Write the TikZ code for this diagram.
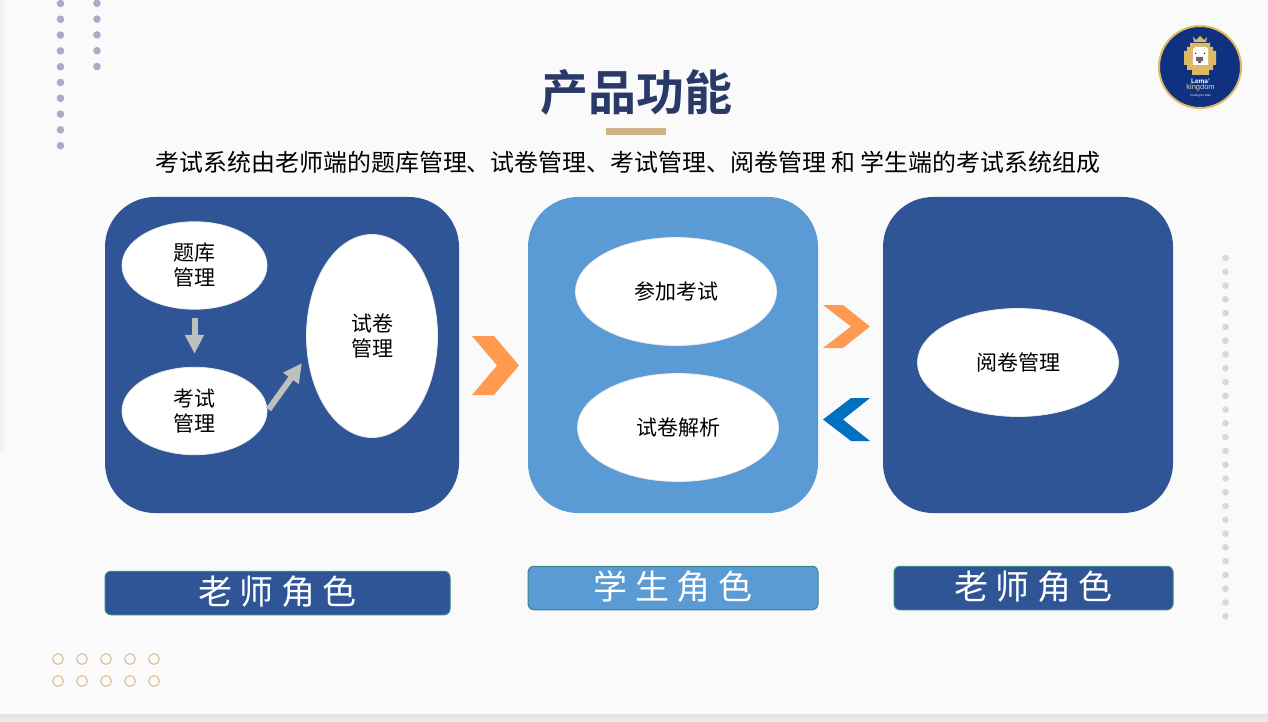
\documentclass[tikz,border=0pt]{standalone}
\usepackage{fontspec}
\setmainfont{Liberation Sans}
\newfontfamily\cjk{Noto Sans CJK SC}
\newfontfamily\cjkb{Noto Sans CJK SC Bold}
\usetikzlibrary{arrows.meta,shapes.geometric}
\definecolor{bgc}{HTML}{FAFAFB}
\definecolor{navy}{HTML}{2F5597}
\definecolor{sky}{HTML}{5B9BD5}
\definecolor{titlec}{HTML}{2A3A68}
\definecolor{barc}{HTML}{CFB285}
\definecolor{dotc}{HTML}{A9ADC1}
\definecolor{dotl}{HTML}{D5D7E3}
\definecolor{ringc}{HTML}{D9BC94}
\definecolor{orangec}{HTML}{FF9A50}
\definecolor{bluec}{HTML}{0070C0}
\definecolor{tealb}{HTML}{3A8588}
\definecolor{arrowc}{HTML}{BFBFBF}
\definecolor{logob}{HTML}{0F3180}
\definecolor{logog}{HTML}{DDB965}
\tikzset{
  x=1pt,y=-1pt,
  panel/.style={rounded corners=50pt,inner sep=0pt},
  oval/.style={ellipse,fill=white,draw=black!8,line width=0.8pt,inner sep=0pt,align=center,font=\cjk\fontsize{21}{25}\selectfont,text=black},
  rolebox/.style={rounded corners=6pt,draw=tealb,line width=1pt,minimum height=43.5pt,inner sep=0pt},
  roletext/.style={text=white,font=\cjk\fontsize{34}{40}\selectfont},
  grayarrow/.style={draw=arrowc,line width=6pt,-{Triangle[length=19pt,width=18pt]}},
  dotd/.style={fill=dotc,draw=none},
  dotlight/.style={fill=dotl,draw=none},
  ring/.style={draw=ringc,line width=1.1pt,fill=none},
}
\begin{document}
\begin{tikzpicture}
\useasboundingbox (0,0) rectangle (1268,722);
\fill[bgc] (0,0) rectangle (1268,722);
\shade[left color=black!6,right color=bgc] (0,0) rectangle (8,450);
\shade[top color=black!11,bottom color=black!7] (0,714) rectangle (1268,722);
% decorative dots
\foreach \y in {3.5,19.3,35.1,50.9,66.7,82.5,98.3,114.1,129.9,145.7} \fill[dotd] (60.5,\y) circle[radius=3.8];
\foreach \y in {3.3,19.1,34.9,50.7,66.5} \fill[dotd] (97,\y) circle[radius=3.8];
\foreach \i in {0,...,26} \fill[dotlight] (1225.5,258+\i*13.78) circle[radius=3.3];
\foreach \x in {58,82,106,130,154}\foreach \y in {659,681} \draw[ring] (\x,\y) circle[radius=5.4];
% title
\node[font=\cjkb\fontsize{48}{52}\selectfont,text=titlec] (title) at (636,92) {产品功能};
\fill[barc] (606,128) rectangle (666,135);
\node[font=\cjk\fontsize{23.95}{28}\selectfont,text=black] (sub) at (628,162) {考试系统由老师端的题库管理、试卷管理、考试管理、阅卷管理 和 学生端的考试系统组成};
% panels
\fill[navy,panel] (105,197) rectangle (459,513);
\fill[sky,panel] (528,197) rectangle (818,513);
\fill[navy,panel] (883,197) rectangle (1173,513);
% ovals
\node[oval,minimum width=145pt,minimum height=87.5pt] (tiku) at (194.5,265.5) {题库\\管理};
\node[oval,minimum width=145pt,minimum height=87.5pt] (kaoshi) at (194.5,411) {考试\\管理};
\node[oval,minimum width=131pt,minimum height=203pt] (shijuan) at (372,336) {试卷\\管理};
\node[oval,minimum width=201pt,minimum height=108pt] (canjia) at (676,291.5) {参加考试};
\node[oval,minimum width=201pt,minimum height=108pt] (jiexi) at (678,427.5) {试卷解析};
\node[oval,minimum width=201pt,minimum height=108pt] (yuejuan) at (1018,362.5) {阅卷管理};
% gray arrows
\coordinate (juanin) at (302,363);
\draw[grayarrow,shorten <=8pt,shorten >=13pt] (tiku.south) -- (kaoshi.north);
\draw[grayarrow,shorten <=2pt] (kaoshi.east) -- (juanin);
% chevrons
\fill[orangec] (472,336) -- (494,336) -- (519,365.5) -- (494,395) -- (472,395) -- (497,365.5) -- cycle;
\fill[orangec] (823,305) -- (843,305) -- (870,326.5) -- (843,348) -- (823,348) -- (851,326.5) -- cycle;
\fill[bluec] (870,398) -- (851,398) -- (823,419.5) -- (851,441) -- (870,441) -- (843,419.5) -- cycle;
% role labels
\node[rolebox,fill=navy,minimum width=345pt] (r1box) at (277.5,593) {};
\node[rolebox,fill=sky,minimum width=290pt] (r2box) at (673,588) {};
\node[rolebox,fill=navy,minimum width=279pt] (r3box) at (1033.5,588) {};
\node[roletext] (r1) at (277.5,592) {老 师 角 色};
\node[roletext] (r2) at (673,587) {学 生 角 色};
\node[roletext] (r3) at (1033.5,587) {老 师 角 色};
% logo
\fill[logob] (1200,67) circle[radius=41];
\draw[logog,line width=2pt] (1200,67) circle[radius=41];
\fill[logog] (1193,37) -- (1196,40) -- (1200,36) -- (1204,40) -- (1207,37) -- (1206,42) -- (1194,42) -- cycle;
\fill[logog] (1190,43) rectangle (1210,47) (1187,47) rectangle (1213,51) (1184,51) rectangle (1216,65) (1187,65) rectangle (1213,70) (1192,70) rectangle (1209,75);
\fill[white] (1195,47) rectangle (1206,48) (1193,48) rectangle (1208,65);
\fill[black!60] (1196,57) rectangle (1203,61) (1198,61) rectangle (1201,63);
\fill[black] (1195,53) rectangle (1196,54) (1204,53) rectangle (1205,54);
\node[text=white,font=\bfseries\fontsize{6.5}{7}\selectfont,inner sep=0pt] (lema) at (1200.5,81) {Lema'};
\node[text=logog!60!white,font=\fontsize{7.5}{8}\selectfont,inner sep=0pt] (king) at (1200.5,88) {kingdom};
\node[text=white,font=\fontsize{3}{4}\selectfont,inner sep=0pt] (kids) at (1200.5,96) {Coding for Kids};
\end{tikzpicture}
\end{document}
